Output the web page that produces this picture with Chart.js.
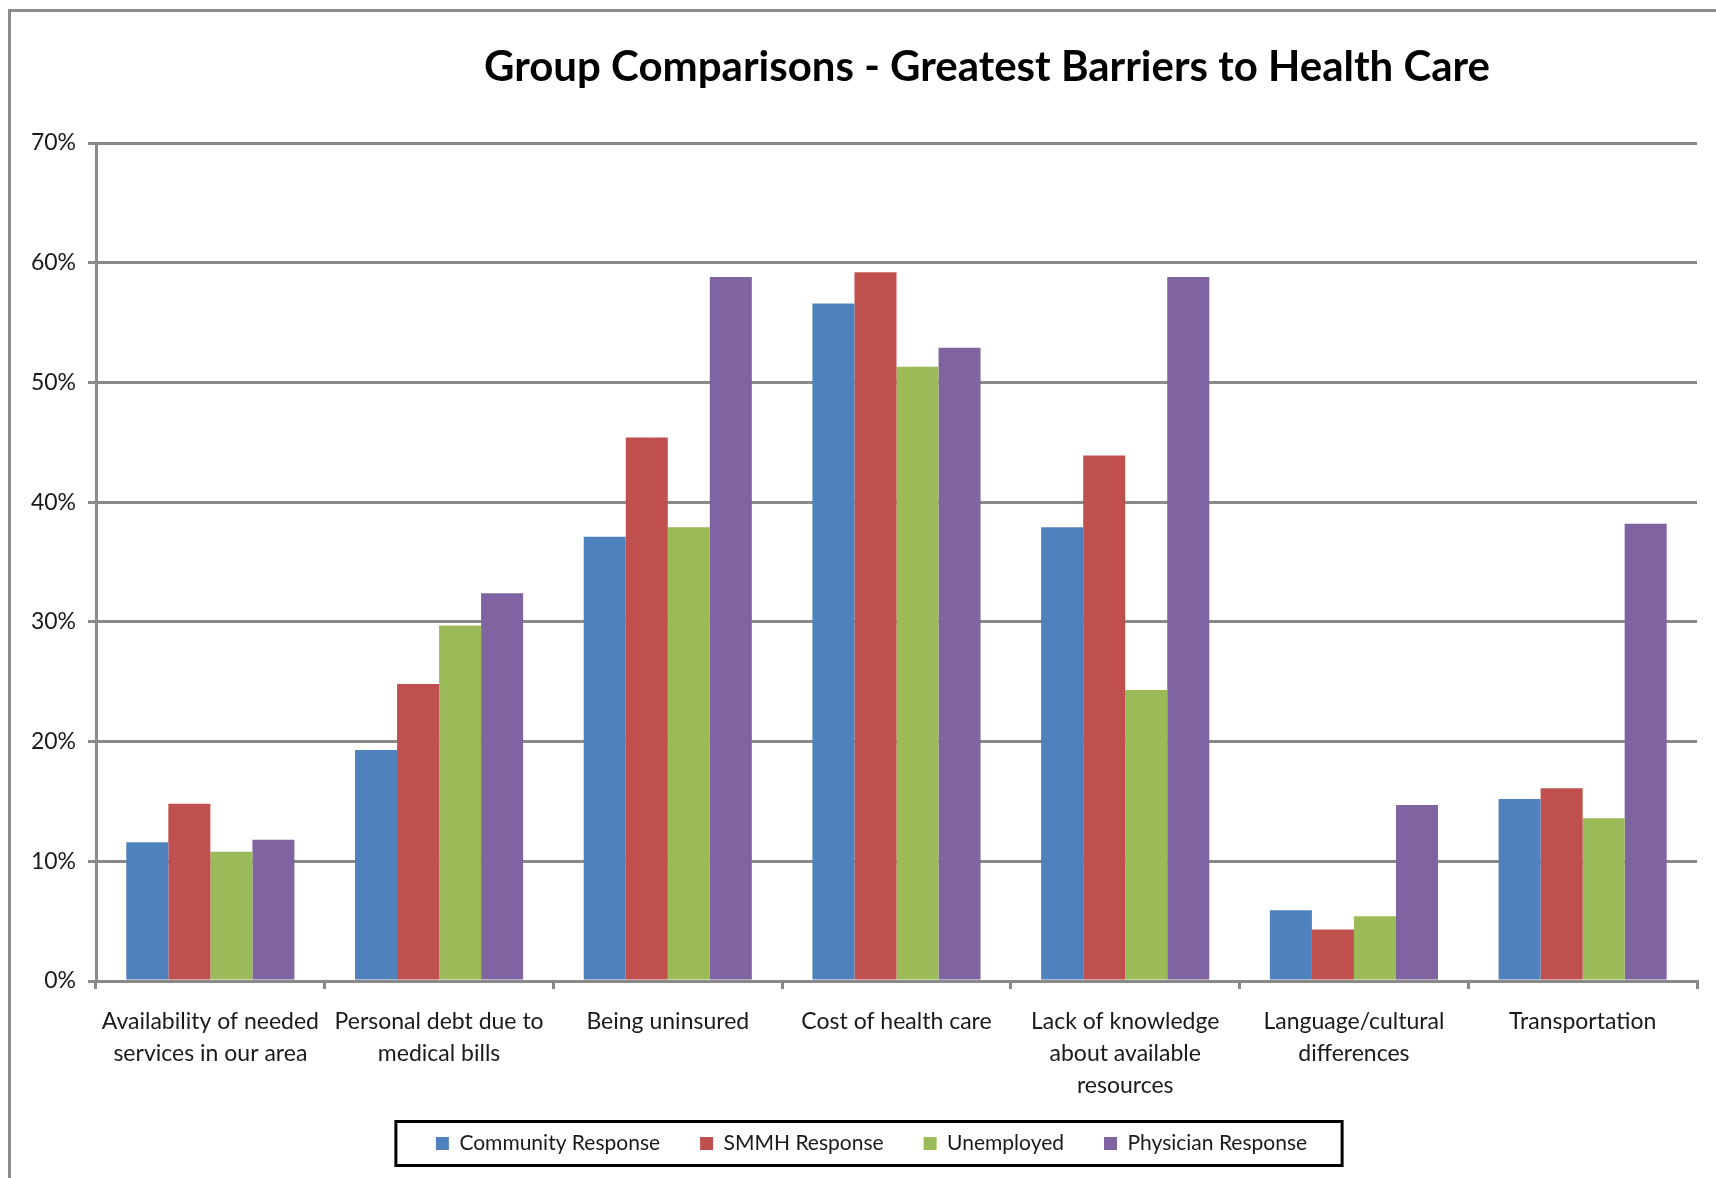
<!DOCTYPE html>
<html lang="en">
<head>
  <meta charset="UTF-8">
  <title>Group Comparisons - Greatest Barriers to Health Care</title>
  <script src="https://cdn.jsdelivr.net/npm/chart.js@4.4.1/dist/chart.umd.min.js"></script>
  <style>
    body { margin: 0; background: #fff; }
    #wrap { position: relative; width: 1716px; height: 1178px; }
    #title { position: absolute; left: 437px; width: 1100px; top: 40px; line-height: 50px;
             text-align: center; font: bold 42px Lato, sans-serif; color: #000; }
  </style>
</head>
<body>
  <div id="wrap">
    <canvas id="chart" width="1716" height="1178"></canvas>
    <div id="title">Group Comparisons - Greatest Barriers to Health Care</div>
  </div>

  <script>
    // categories (multi-line labels as in the original)
    const categories = [
      ['Availability of needed', 'services in our area'],
      ['Personal debt due to', 'medical bills'],
      'Being uninsured',
      'Cost of health care',
      ['Lack of knowledge', 'about available', 'resources'],
      ['Language/cultural', 'differences'],
      'Transportation'
    ];

    // percent values
    const community = [11.6, 19.3, 37.1, 56.6, 37.9, 5.9, 15.2];
    const smmh      = [14.8, 24.8, 45.4, 59.2, 43.9, 4.3, 16.1];
    const unemployed = [10.8, 29.7, 37.9, 51.3, 24.3, 5.4, 13.6];
    const physician = [11.8, 32.4, 58.8, 52.9, 58.8, 14.7, 38.2];

    const yMax = 70;
    const yStep = 10;

    const gridGray = '#898989';
    const textColor = '#1a1a1a';

    // frame round the chart, legend nudged right, box round the legend
    const decor = {
      id: 'decor',
      afterLayout(chart) {
        chart.legend.left += 17;
        chart.legend.right += 17;
      },
      beforeDraw(chart) {
        const c = chart.ctx;
        c.save();
        c.strokeStyle = '#8c8c8c';
        c.lineWidth = 3;
        c.beginPath();
        c.moveTo(9.5, 1178);
        c.lineTo(9.5, 10.5);
        c.lineTo(1716, 10.5);
        c.stroke();
        c.restore();
      },
      afterDraw(chart) {
        const boxes = chart.legend.legendHitBoxes;
        if (!boxes || !boxes.length) return;
        const left = Math.min(...boxes.map(b => b.left)) - 40;
        const right = Math.max(...boxes.map(b => b.left + b.width)) + 35;
        const mid = boxes[0].top + boxes[0].height / 2;
        const c = chart.ctx;
        c.save();
        c.strokeStyle = '#000';
        c.lineWidth = 3;
        c.strokeRect(left, mid - 22, right - left, 44);
        c.restore();
      }
    };

    new Chart(document.getElementById('chart'), {
      type: 'bar',
      data: {
        labels: categories,
        datasets: [
          { label: 'Community Response', data: community, backgroundColor: '#4F81BD' },
          { label: 'SMMH Response', data: smmh, backgroundColor: '#C0504D' },
          { label: 'Unemployed', data: unemployed, backgroundColor: '#9BBB59' },
          { label: 'Physician Response', data: physician, backgroundColor: '#8064A2' }
        ]
      },
      options: {
        responsive: false,
        animation: false,
        datasets: { bar: { categoryPercentage: 0.735, barPercentage: 1.0 } },
        layout: { padding: { left: 12, right: 19, top: 143, bottom: 14 } },
        plugins: {
          title: { display: false },
          tooltip: { enabled: false },
          legend: {
            position: 'bottom',
            labels: {
              font: { family: 'Lato', size: 21 },
              color: textColor,
              boxWidth: 13,
              boxHeight: 13,
              padding: 40
            }
          }
        },
        scales: {
          x: {
            afterFit(scale) { scale.height = 112; },
            grid: { drawOnChartArea: false, drawTicks: true, tickLength: 8, color: gridGray, lineWidth: 3 },
            border: { display: true, color: gridGray, width: 3 },
            ticks: {
              font: { family: 'Lato', size: 23, lineHeight: 1.38 },
              color: textColor,
              padding: 17,
              maxRotation: 0,
              autoSkip: false
            }
          },
          y: {
            min: 0,
            max: yMax,
            afterFit(scale) { scale.width = 84; },
            grid: { color: gridGray, lineWidth: 3, tickLength: 8 },
            border: { display: true, color: gridGray, width: 3 },
            ticks: {
              stepSize: yStep,
              font: { family: 'Lato', size: 23 },
              color: textColor,
              padding: 12,
              callback: v => v + '%'
            }
          }
        }
      },
      plugins: [decor]
    });
  </script>
</body>
</html>
